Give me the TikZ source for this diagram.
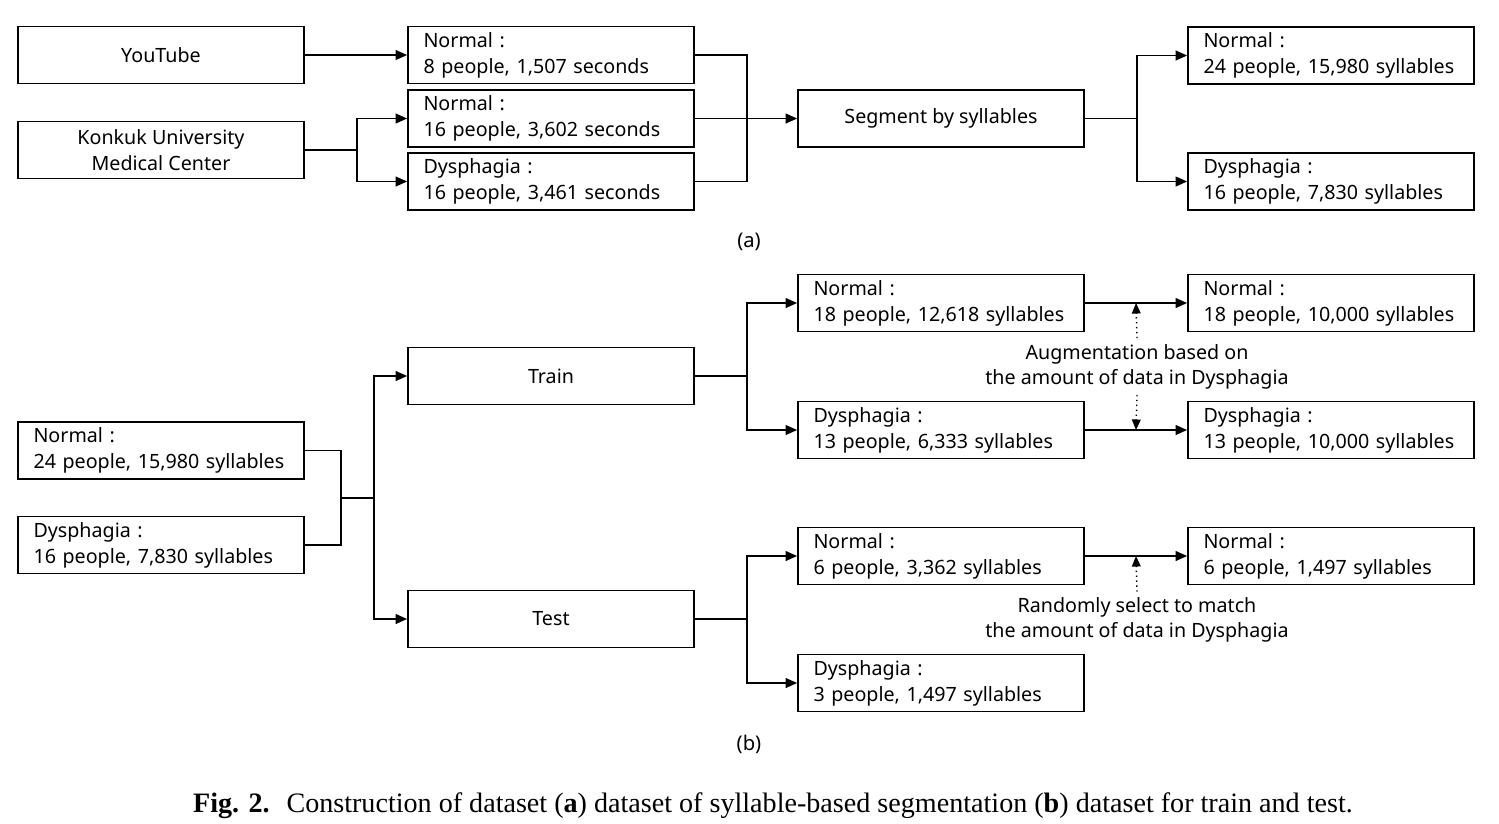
\documentclass[tikz,border=0pt]{standalone}
\usepackage{fontspec}
\setmainfont{Liberation Serif}
\newfontfamily\boxfont{Noto Sans}
\usetikzlibrary{arrows.meta,calc}
\def\boxsize{\boxfont\fontsize{11.2}{14.8}\selectfont}
\tikzset{
	box/.style={draw, line width=1pt, minimum width=5.72cm, minimum height=1.14cm, inner sep=0pt, align=center, font=\boxsize},
	databox/.style={box, text width=5.1cm, align=left},
	wire/.style={line width=1pt},
	arr/.style={line width=1pt, -{Triangle[length=6.5pt,width=5.5pt]}},
	dotarr/.style={line width=0.8pt, dotted, -{Triangle[length=6pt,width=5pt]}},
	note/.style={align=center, minimum height=1.12cm, inner sep=0pt, font=\boxfont\fontsize{11.2}{14.2}\selectfont},
	partlabel/.style={inner sep=0pt, font=\boxfont\fontsize{11.5}{14}\selectfont}
}

\begin{document}
\begin{tikzpicture}[x=0.02cm, y=-0.02cm]
			%%%%% START %%%%%
			\useasboundingbox (0,0) rectangle (1499,823);
			
			% (a)
			\node[box] (yt) at (161,55) {YouTube};
			\node[box] (kumc) at (161,150) {Konkuk University\\Medical Center};
			\node[databox] (n1) at (551,55) {Normal :\\8 people, 1,507 seconds};
			\node[databox] (n2) at (551,118.5) {Normal :\\16 people, 3,602 seconds};
			\node[databox] (d1) at (551,181.5) {Dysphagia :\\16 people, 3,461 seconds};
			\node[box] (sg) at (941,118.5) {Segment by syllables};
			\node[databox] (on) at (1331,55.5) {Normal :\\24 people, 15,980 syllables};
			\node[databox] (od) at (1331,181.5) {Dysphagia :\\16 people, 7,830 syllables};
			\node[partlabel] (la) at (749,242) {(a)};
			
			\draw[arr] (yt.east) -- (n1.west);
			\coordinate (ka) at ($(kumc.east)+(52,0)$);
			\draw[wire] (kumc.east) -- (ka);
			\draw[arr] (ka) |- (n2.west);
			\draw[arr] (ka) |- (d1.west);
			
			\coordinate (ja) at ($(n2.east)+(52,0)$);
			\draw[wire] (n1.east) -| (ja) |- (d1.east);
			\draw[arr] (n2.east) -- (sg.west);
			
			\coordinate (sa) at ($(sg.east)+(52,0)$);
			\draw[wire] (sg.east) -- (sa);
			\draw[arr] (sa) |- (on.west);
			\draw[arr] (sa) |- (od.west);
			
			% (b)
			\node[databox] (bn) at (161,450.5) {Normal :\\24 people, 15,980 syllables};
			\node[databox] (bd) at (161,545) {Dysphagia :\\16 people, 7,830 syllables};
			\node[box] (tr) at (551,376) {Train};
			\node[box] (te) at (551,619) {Test};
			\node[databox] (trn) at (941,303) {Normal :\\18 people, 12,618 syllables};
			\node[databox] (trd) at (941,430) {Dysphagia :\\13 people, 6,333 syllables};
			\node[databox] (agn) at (1331,303) {Normal :\\18 people, 10,000 syllables};
			\node[databox] (agd) at (1331,430) {Dysphagia :\\13 people, 10,000 syllables};
			\node[databox] (ten) at (941,556) {Normal :\\6 people, 3,362 syllables};
			\node[databox] (ted) at (941,683) {Dysphagia :\\3 people, 1,497 syllables};
			\node[databox] (sel) at (1331,556) {Normal :\\6 people, 1,497 syllables};
			\node[note] (aug) at (1137,366.5) {Augmentation based on\\the amount of data in Dysphagia};
			\node[note] (rnd) at (1137,620) {Randomly select to match\\the amount of data in Dysphagia};
			\node[partlabel] (lb) at (749,744) {(b)};
			
			\coordinate (jb) at ($(bn.east)!0.5!(bd.east)+(36,0)$);
			\draw[wire] (bn.east) -| (jb) |- (bd.east);
			\coordinate (sp) at ($(jb)+(33,0)$);
			\draw[wire] (jb) -- (sp);
			\draw[arr] (sp) |- (tr.west);
			\draw[arr] (sp) |- (te.west);
			
			\coordinate (tra) at ($(tr.east)+(52,0)$);
			\draw[wire] (tr.east) -- (tra);
			\draw[arr] (tra) |- (trn.west);
			\draw[arr] (tra) |- (trd.west);
			\draw[arr] (trn.east) -- (agn.west);
			\draw[arr] (trd.east) -- (agd.west);
			
			\coordinate (tea) at ($(te.east)+(52,0)$);
			\draw[wire] (te.east) -- (tea);
			\draw[arr] (tea) |- (ten.west);
			\draw[arr] (tea) |- (ted.west);
			\draw[arr] (ten.east) -- (sel.west);
			
			\coordinate (up1) at ($(trn.east)!0.5!(agn.west)$);
			\coordinate (dn1) at ($(trd.east)!0.5!(agd.west)$);
			\coordinate (up2) at ($(ten.east)!0.5!(sel.west)$);
			\draw[dotarr] (aug.north) -- (up1);
			\draw[dotarr] (aug.south) -- (dn1);
			\draw[dotarr] (rnd.north) -- (up2);
			
			% caption
			\node[font=\fontsize{16}{18}\selectfont] (cap) at (773,806) {\textbf{Fig. 2.}\hspace{0.6em}Construction of dataset (\textbf{a}) dataset of syllable-based segmentation (\textbf{b}) dataset for train and test.};
			%%%%% END %%%%%
\end{tikzpicture}
\end{document}
